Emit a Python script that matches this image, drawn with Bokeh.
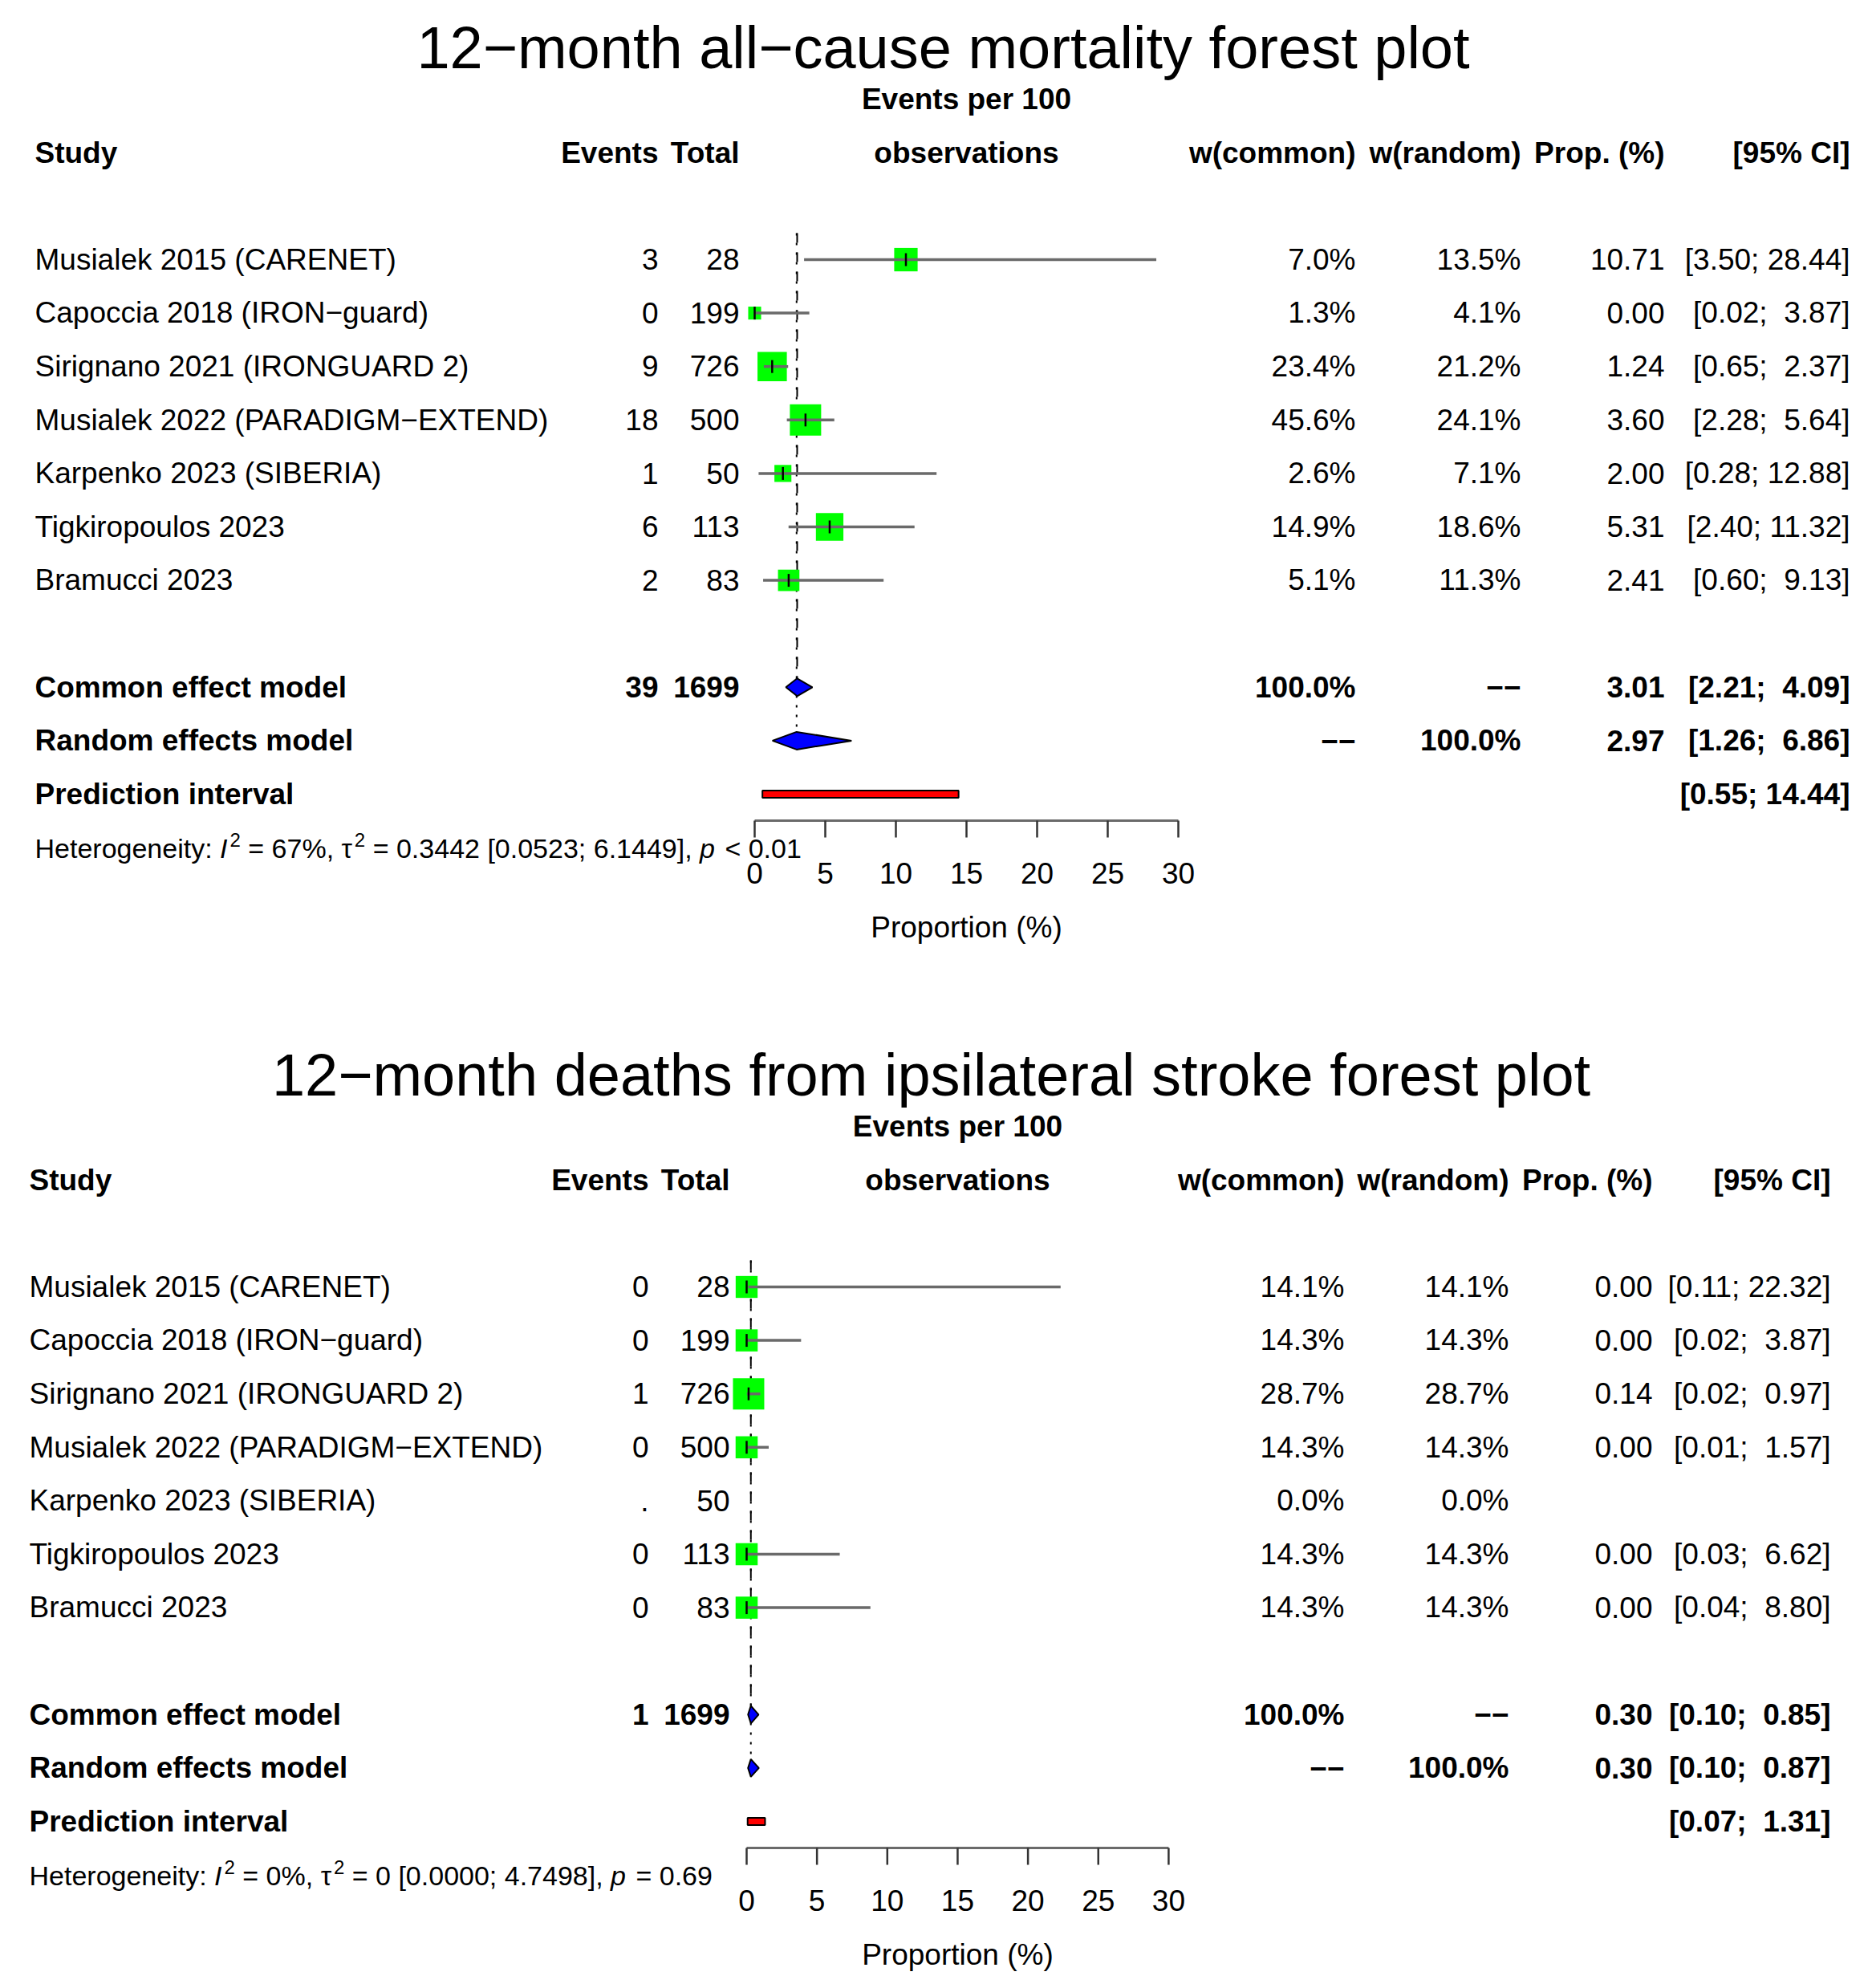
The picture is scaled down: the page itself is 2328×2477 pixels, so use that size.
from bokeh.plotting import figure
from bokeh.layouts import column
from bokeh.models import Range1d
from bokeh.embed import file_html
from bokeh.resources import INLINE
from bokeh.core.properties import value

FONT = "Liberation Sans"

# ---------------- data ----------------
studies = ["Musialek 2015 (CARENET)", "Capoccia 2018 (IRON\u2212guard)",
           "Sirignano 2021 (IRONGUARD 2)", "Musialek 2022 (PARADIGM\u2212EXTEND)",
           "Karpenko 2023 (SIBERIA)", "Tigkiropoulos 2023", "Bramucci 2023"]
totals = [28, 199, 726, 500, 50, 113, 83]
ticks = [0, 5, 10, 15, 20, 25, 30]
tick_labels = ["0", "5", "10", "15", "20", "25", "30"]
NA = "\u2212\u2212"

# panel 1: all-cause mortality
p1_title = "12\u2212month all\u2212cause mortality forest plot"
p1_events = ["3", "0", "9", "18", "1", "6", "2"]
p1_prop = [10.71, 0.00, 1.24, 3.60, 2.00, 5.31, 2.41]
p1_lower = [3.50, 0.02, 0.65, 2.28, 0.28, 2.40, 0.60]
p1_upper = [28.44, 3.87, 2.37, 5.64, 12.88, 11.32, 9.13]
p1_wcommon = [7.0, 1.3, 23.4, 45.6, 2.6, 14.9, 5.1]
p1_wrandom = [13.5, 4.1, 21.2, 24.1, 7.1, 18.6, 11.3]
p1_common = [3.01, 2.21, 4.09]
p1_random = [2.97, 1.26, 6.86]
p1_pred = [0.55, 14.44]
p1_sum_events = ["39", "1699"]
p1_het = ["67%", "0.3442", "[0.0523; 6.1449]", "<", "0.01"]

# panel 2: deaths from ipsilateral stroke
p2_title = "12\u2212month deaths from ipsilateral stroke forest plot"
p2_events = ["0", "0", "1", "0", ".", "0", "0"]
p2_prop = [0.00, 0.00, 0.14, 0.00, None, 0.00, 0.00]
p2_lower = [0.11, 0.02, 0.02, 0.01, None, 0.03, 0.04]
p2_upper = [22.32, 3.87, 0.97, 1.57, None, 6.62, 8.80]
p2_wcommon = [14.1, 14.3, 28.7, 14.3, 0.0, 14.3, 14.3]
p2_wrandom = [14.1, 14.3, 28.7, 14.3, 0.0, 14.3, 14.3]
p2_common = [0.30, 0.10, 0.85]
p2_random = [0.30, 0.10, 0.87]
p2_pred = [0.07, 1.31]
p2_sum_events = ["1", "1699"]
p2_het = ["0%", "0", "[0.0000; 4.7498]", "=", "0.69"]

# ---------------- layout constants (image pixels) ----------------
ROW0 = 323.0
ROWH = 66.6
L1 = dict(zero=940.0, ppu=17.6, left=43, ev=820, tot=921, wc=1689, wr=1895,
          pr=2074, ci=2305, tcx=1175)
L2 = dict(zero=930.0, ppu=17.53, left=36, ev=808, tot=909, wc=1675, wr=1880,
          pr=2059, ci=2281, tcx=1160)
BASE_K = 0.33  # baseline correction (fraction of font size)

AW = {' ': 278, '%': 889, ',': 278, '.': 278, ':': 278, ';': 278, '<': 584,
      '=': 584, '[': 278, ']': 278, 'H': 722, 'I': 278, 'e': 556, 't': 278,
      'r': 333, 'o': 556, 'g': 556, 'n': 556, 'i': 222, 'y': 500, 'p': 556,
      '\u03c4': 480}


def tw(s, fs):
    return sum(AW.get(c, 556) for c in s) * fs / 1000.0


def ci_formatter(lowers, uppers):
    lw = max(len(f"{v:.2f}") for v in lowers)
    uw = max(len(f"{v:.2f}") for v in uppers)

    def f(lo, hi):
        return ("[" + f"{lo:.2f}".rjust(lw, "\u00a0") + "; " +
                f"{hi:.2f}".rjust(uw, "\u00a0") + "]")
    return f


def panel(title, events, prop, lower, upper, wc, wr, common, rand, pred,
          sum_ev, het, L, H):
    zero, ppu = L["zero"], L["ppu"]

    def X(px):
        return (px - zero) / ppu

    p = figure(width=2312, height=H, x_range=Range1d(X(0), X(2312)),
               y_range=Range1d(H, 0), output_backend="svg",
               toolbar_location=None, x_axis_location=None,
               y_axis_location=None, min_border=0, outline_line_color=None,
               background_fill_color="white", border_fill_color="white")
    p.grid.visible = False

    def txt(xs, ys, ss, fs=37, align="left", style="normal"):
        p.text(x=xs, y=[y - BASE_K * fs for y in ys], text=ss,
               text_font=value(FONT), text_font_size=f"{fs}px",
               text_align=align, text_baseline="alphabetic",
               text_font_style=style, text_color="black")

    def rb(r):  # baseline for a row
        return ROW0 + ROWH * r + 12

    n = len(studies)
    rows = list(range(n))
    fc = zero + 15 * ppu  # forest centre (px)
    idx = [i for i in rows if prop[i] is not None]
    fmt_ci = ci_formatter([lower[i] for i in idx] + [common[1], rand[1], pred[0]],
                          [upper[i] for i in idx] + [common[2], rand[2], pred[1]])

    # title and headers
    txt([X(L["tcx"])], [83], [title], fs=74, align="center")
    txt([X(fc)], [rb(-3)], ["Events per 100"], align="center", style="bold")
    txt([X(fc)], [rb(-2)], ["observations"], align="center", style="bold")
    txt([X(L["left"])], [rb(-2)], ["Study"], style="bold")
    for key, lab in [("ev", "Events"), ("tot", "Total"), ("wc", "w(common)"),
                     ("wr", "w(random)"), ("pr", "Prop. (%)"), ("ci", "[95% CI]")]:
        txt([X(L[key])], [rb(-2)], [lab], align="right", style="bold")

    # study rows
    ys = [rb(r) for r in rows]
    txt([X(L["left"])] * n, ys, studies)
    txt([X(L["ev"])] * n, ys, events, align="right")
    txt([X(L["tot"])] * n, ys, [str(t) for t in totals], align="right")
    txt([X(L["wc"])] * n, ys, [f"{w:.1f}%" for w in wc], align="right")
    txt([X(L["wr"])] * n, ys, [f"{w:.1f}%" for w in wr], align="right")
    txt([X(L["pr"])] * len(idx), [ys[i] for i in idx],
        [f"{prop[i]:.2f}" for i in idx], align="right")
    txt([X(L["ci"])] * len(idx), [ys[i] for i in idx],
        [fmt_ci(lower[i], upper[i]) for i in idx], align="right")

    # summary rows
    sb = [rb(8), rb(9), rb(10)]
    txt([X(L["left"])] * 3, sb, ["Common effect model", "Random effects model",
                                 "Prediction interval"], style="bold")
    txt([X(L["ev"])], [sb[0]], [sum_ev[0]], align="right", style="bold")
    txt([X(L["tot"])], [sb[0]], [sum_ev[1]], align="right", style="bold")
    txt([X(L["wc"])] * 2, sb[:2], ["100.0%", NA], align="right", style="bold")
    txt([X(L["wr"])] * 2, sb[:2], [NA, "100.0%"], align="right", style="bold")
    txt([X(L["pr"])] * 2, sb[:2], [f"{common[0]:.2f}", f"{rand[0]:.2f}"],
        align="right", style="bold")
    txt([X(L["ci"])] * 3, sb,
        [fmt_ci(common[1], common[2]), fmt_ci(rand[1], rand[2]),
         fmt_ci(pred[0], pred[1])], align="right", style="bold")

    # reference lines (common dashed, random dotted)
    yc = ROW0 + ROWH * 8
    yr = ROW0 + ROWH * 9
    yp = ROW0 + ROWH * 10
    p.segment(x0=[common[0]], x1=[common[0]], y0=[ROW0 - 33], y1=[yc - 11],
              line_color="black", line_width=2, line_dash="12 12")
    p.segment(x0=[rand[0]], x1=[rand[0]], y0=[ROW0 - 33], y1=[yr - 11],
              line_color="black", line_width=2, line_dash="3 9")

    # study squares, CIs and ticks
    wmax = max(wr)
    cy = [ROW0 + ROWH * i for i in idx]
    p.scatter(x=[prop[i] for i in idx], y=cy, marker="square",
              size=[39 * (wr[i] / wmax) ** 0.5 for i in idx],
              fill_color="#00ff00", line_color=None)
    p.segment(x0=[lower[i] for i in idx], x1=[upper[i] for i in idx],
              y0=cy, y1=cy, line_color="#6a6a6a", line_width=3.5)
    p.segment(x0=[prop[i] for i in idx], x1=[prop[i] for i in idx],
              y0=[c - 8 for c in cy], y1=[c + 8 for c in cy],
              line_color="black", line_width=2.5)

    # diamonds
    for est, lo, hi, yy in [(common[0], common[1], common[2], yc),
                            (rand[0], rand[1], rand[2], yr)]:
        p.patch(x=[lo, est, hi, est], y=[yy, yy - 11, yy, yy + 11],
                fill_color="#0000ff", line_color="black", line_width=2)

    # prediction interval
    p.quad(left=[pred[0]], right=[pred[1]], top=[yp - 4.5], bottom=[yp + 4.5],
           fill_color="#ff0000", line_color="black", line_width=2)

    # axis
    p.segment(x0=[ticks[0]], x1=[ticks[-1]], y0=[1022], y1=[1022],
              line_color="#6a6a6a", line_width=3)
    p.segment(x0=ticks, x1=ticks, y0=[1022] * len(ticks), y1=[1043] * len(ticks),
              line_color="#333333", line_width=2.5)
    txt(ticks, [1100] * len(ticks), tick_labels, align="center")
    txt([X(fc)], [1167], ["Proportion (%)"], align="center")

    # heterogeneity line
    hb = 1068
    fs, sfs, rise = 34, 24, 14
    segs = [("Heterogeneity: ", "normal", fs, 0),
            ("I", "italic", fs, 0),
            ("2", "normal", sfs, rise),
            (" = " + het[0] + ", ", "normal", fs, 0),
            ("\u03c4", "normal", fs, 0),
            ("2", "normal", sfs, rise),
            (" = " + het[1] + " " + het[2] + ", ", "normal", fs, 0),
            ("p", "italic", fs, 0),
            (" " + het[3] + " " + het[4], "normal", fs, 0)]
    cur = L["left"]
    for s, st, f, r in segs:
        lead = len(s) - len(s.lstrip(" "))
        xpx = cur + tw(s[:lead], f)
        txt([X(xpx)], [hb - r], [s.strip(" ")], fs=f, style=st)
        cur += tw(s, f)
        if st == "italic":
            cur += 3

    return p


p1 = panel(p1_title, p1_events, p1_prop, p1_lower, p1_upper, p1_wcommon,
           p1_wrandom, p1_common, p1_random, p1_pred, p1_sum_events, p1_het,
           L1, 1280)
p2 = panel(p2_title, p2_events, p2_prop, p2_lower, p2_upper, p2_wcommon,
           p2_wrandom, p2_common, p2_random, p2_pred, p2_sum_events, p2_het,
           L2, 1181)

layout = column(p1, p2, spacing=0)
open("out.html", "w").write(file_html(layout, INLINE))
